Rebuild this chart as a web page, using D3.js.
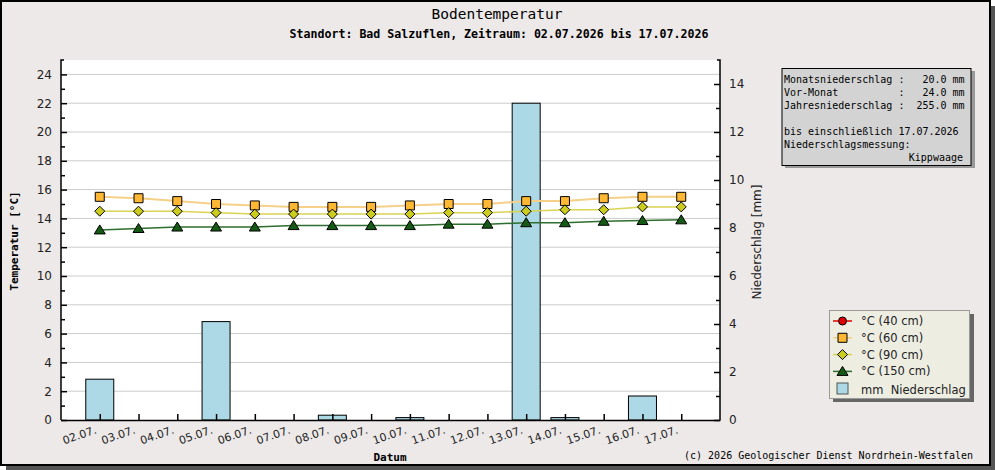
<!DOCTYPE html>
<html>
<head>
<meta charset="utf-8">
<script src="https://cdn.jsdelivr.net/npm/d3@7"></script>
<style>
body { margin:0; background:#fff; }
text { font-family:"DejaVu Sans", sans-serif; }
.mono { font-family:"DejaVu Sans Mono", monospace; }
</style>
</head>
<body>
<svg id="chart"></svg>
<script>
var dates = ["02.07.","03.07.","04.07.","05.07.","06.07.","07.07.","08.07.","09.07.",
             "10.07.","11.07.","12.07.","13.07.","14.07.","15.07.","16.07.","17.07."];
var rain   = [1.7,0,0,4.1,0,0,0.2,0,0.1,0,0,13.2,0.1,0,1.0,0];
var temp40 = [];
var temp60 = [15.5,15.4,15.2,15.0,14.9,14.8,14.8,14.8,14.9,15.0,15.0,15.2,15.2,15.4,15.5,15.5];
var temp90 = [14.5,14.5,14.5,14.4,14.3,14.3,14.3,14.3,14.3,14.4,14.4,14.5,14.6,14.6,14.8,14.8];
var temp150= [13.2,13.3,13.4,13.4,13.4,13.5,13.5,13.5,13.5,13.6,13.6,13.7,13.7,13.8,13.85,13.9];
var leftTicks = d3.range(0,25,2);
var rightTicks = d3.range(0,15,2);
var infoLines = ["Monatsniederschlag :   20.0 mm",
                 "Vor-Monat          :   24.0 mm",
                 "Jahresniederschlag :  255.0 mm",
                 "",
                 "bis einschließlich 17.07.2026",
                 "Niederschlagsmessung:"];

var screen = {width:995, height:470};

var svg = d3.select("#chart")
    .attr("width",screen.width)
    .attr("height",screen.height)

// frame with shadow
svg.append("rect").attr("x",6).attr("y",6).attr("width",989).attr("height",464).attr("fill","#555")
svg.append("rect").attr("x",1).attr("y",1).attr("width",989).attr("height",464)
    .attr("fill","#ece9e8").attr("stroke","#000").attr("stroke-width",2)

var xScale = d3.scaleLinear().domain([-1,16]).range([61,720])
var yScale = d3.scaleLinear().domain([0,25]).range([420,60])
var rScale = d3.scaleLinear().domain([0,15]).range([420,60])

svg.append("rect").attr("x",61).attr("y",60).attr("width",659).attr("height",360).attr("fill","#fff")

// grid
svg.append("g").selectAll("line")
    .data(leftTicks.filter(function(d){return d>0}))
    .enter().append("line")
    .attr("x1",61).attr("x2",720)
    .attr("y1",function(d){return yScale(d)})
    .attr("y2",function(d){return yScale(d)})
    .attr("stroke","#cccccc")

// bars
var barW = 28
svg.append("g").selectAll("rect")
    .data(rain.map(function(v,i){return {i:i,v:v}}).filter(function(d){return d.v>0}))
    .enter().append("rect")
    .attr("x",function(d){return xScale(d.i)-barW/2})
    .attr("width",barW)
    .attr("y",function(d){return rScale(d.v)})
    .attr("height",function(d){return 420-rScale(d.v)})
    .attr("fill","#add8e6")
    .attr("stroke","#000")

// axes
var leftAxis = d3.axisLeft(yScale).tickValues(leftTicks).tickSizeInner(-6).tickSizeOuter(0).tickPadding(9)
var gl = svg.append("g").attr("transform","translate(61,0)").call(leftAxis)
svg.append("g").attr("transform","translate(61,0)")
    .call(d3.axisLeft(yScale).tickValues(d3.range(1,25,2)).tickSize(-4).tickFormat("")).select(".domain").remove()
var rightAxis = d3.axisRight(rScale).tickValues(rightTicks).tickSizeInner(-6).tickSizeOuter(0).tickPadding(9)
var gr = svg.append("g").attr("transform","translate(720,0)").call(rightAxis)
svg.append("g").attr("transform","translate(720,0)")
    .call(d3.axisRight(rScale).tickValues(d3.range(1,15,2)).tickSize(-4).tickFormat("")).select(".domain").remove()
var xAxis = d3.axisBottom(xScale).tickValues(d3.range(0,16)).tickSizeInner(-6).tickSizeOuter(0)
    .tickFormat(function(i){return dates[i]})
var gx = svg.append("g").attr("transform","translate(0,420)").call(xAxis)
gx.selectAll("text")
    .attr("text-anchor","end")
    .attr("y",0).attr("dy",0)
    .attr("transform","translate(-3,13) rotate(-19)")
    .attr("font-size",11).attr("fill","#222")
svg.selectAll(".domain").attr("stroke","#000").attr("stroke-width",1.5)
svg.selectAll(".tick line").attr("stroke","#000").attr("stroke-width",1.5)
gl.selectAll("text").attr("font-size",12).attr("fill","#222")
gr.selectAll("text").attr("font-size",12).attr("fill","#222")
gl.select(".domain").attr("d","M3,60H0V420")
gr.select(".domain").attr("d","M-3,60H0V420")

// lines and markers
var series = [
    {vals:temp60, line:"#f5d088", lw:2, shape:"square", fill:"#ffb833"},
    {vals:temp90, line:"#dad453", lw:1.5, shape:"diamond", fill:"#cccc1f"},
    {vals:temp150, line:"#2e6e2e", lw:1.5, shape:"triangle", fill:"#145a14"}
]
var shapePath = function(shape,x,y)
{
    if(shape=="square") return "M"+(x-4.5)+","+(y-4.5)+"h9v9h-9z"
    if(shape=="diamond") return "M"+x+","+(y-5)+"l5,5l-5,5l-5,-5z"
    if(shape=="triangle") return "M"+x+","+(y-5)+"l5.5,9h-11z"
    return "M"+(x-4)+","+y+"a4,4 0 1,0 8,0a4,4 0 1,0 -8,0"
}
var line = d3.line()
    .x(function(d,i){return xScale(i)})
    .y(function(d){return yScale(d)})
series.forEach(function(s)
{
    svg.append("path").attr("d",line(s.vals)).attr("fill","none")
        .attr("stroke",s.line).attr("stroke-width",s.lw)
    svg.append("g").selectAll("path")
        .data(s.vals).enter().append("path")
        .attr("d",function(d,i){return shapePath(s.shape,xScale(i),yScale(d))})
        .attr("fill",s.fill).attr("stroke","#000").attr("stroke-width",1)
})

// titles
svg.append("text").attr("class","mono").attr("x",497).attr("y",19)
    .attr("text-anchor","middle").attr("font-size",14.5).text("Bodentemperatur")
svg.append("text").attr("class","mono").attr("x",499).attr("y",38)
    .attr("text-anchor","middle").attr("font-size",11.6).attr("font-weight","bold")
    .text("Standort: Bad Salzuflen, Zeitraum: 02.07.2026 bis 17.07.2026")
svg.append("text").attr("class","mono").attr("x",390).attr("y",461)
    .attr("text-anchor","middle").attr("font-size",11).attr("font-weight","bold").text("Datum")
svg.append("text").attr("class","mono").attr("transform","translate(18,241) rotate(-90)")
    .attr("text-anchor","middle").attr("font-size",11).attr("font-weight","bold").text("Temperatur [°C]")
svg.append("text").attr("transform","translate(761,242) rotate(-90)")
    .attr("text-anchor","middle").attr("font-size",12).attr("fill","#222").text("Niederschlag [mm]")
svg.append("text").attr("class","mono").attr("x",973).attr("y",459)
    .attr("text-anchor","end").attr("font-size",10).text("(c) 2026 Geologischer Dienst Nordrhein-Westfalen")

// info box
svg.append("rect").attr("x",785).attr("y",71).attr("width",190).attr("height",97).attr("fill","#999")
svg.append("rect").attr("x",782).attr("y",68.5).attr("width",189).attr("height",97)
    .attr("fill","#d3d3d3").attr("stroke","#000")
svg.append("g").selectAll("text").data(infoLines).enter().append("text")
    .attr("class","mono").attr("xml:space","preserve").style("white-space","pre")
    .attr("x",784).attr("y",function(d,i){return 83+i*13})
    .attr("font-size",10).text(function(d){return d})
svg.append("text").attr("class","mono").attr("x",963).attr("y",161)
    .attr("text-anchor","end").attr("font-size",10).text("Kippwaage")

// legend
svg.append("rect").attr("x",833).attr("y",314).attr("width",141).attr("height",88).attr("fill","#666")
svg.append("rect").attr("x",829.5).attr("y",310.5).attr("width",140).attr("height",88)
    .attr("fill","#ededE2").attr("stroke","#999")
var legendItems = [
    {label:"°C (40 cm)", line:"#e00000", shape:"circle", fill:"#e00000"},
    {label:"°C (60 cm)", line:series[0].line, shape:"square", fill:series[0].fill},
    {label:"°C (90 cm)", line:series[1].line, shape:"diamond", fill:series[1].fill},
    {label:"°C (150 cm)", line:series[2].line, shape:"triangle", fill:series[2].fill}
]
var lg = svg.append("g")
legendItems.forEach(function(d,i)
{
    var y = 321+i*16.8
    lg.append("line").attr("x1",833).attr("x2",852).attr("y1",y).attr("y2",y)
        .attr("stroke",d.line).attr("stroke-width",1.5)
    lg.append("path").attr("d",shapePath(d.shape,842.5,y)).attr("fill",d.fill)
        .attr("stroke","#000").attr("stroke-width",1)
    lg.append("text").attr("x",861).attr("y",y+4).attr("font-size",11.5).attr("fill","#222").text(d.label)
})
lg.append("rect").attr("x",837).attr("y",383).attr("width",11).attr("height",11)
    .attr("fill","#add8e6").attr("stroke","#555")
lg.append("text").attr("x",861).attr("y",393.5).attr("font-size",11.5).attr("fill","#222")
    .attr("xml:space","preserve").style("white-space","pre").text("mm  Niederschlag")
</script>
</body>
</html>
